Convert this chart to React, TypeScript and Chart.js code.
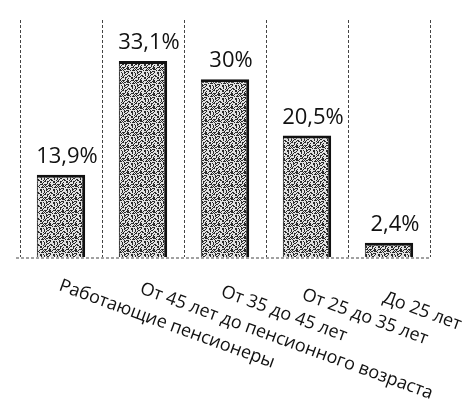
import React, { useEffect, useRef } from "react";
import { Chart, registerables } from "chart.js";

Chart.register(...registerables);

const categories = [
  "Работающие пенсионеры",
  "От 45 лет до пенсионного возраста",
  "От 35 до 45 лет",
  "От 25 до 35 лет",
  "До 25 лет",
];
const values = [13.9, 33.1, 30, 20.5, 2.4];
const valueLabels = ["13,9%", "33,1%", "30%", "20,5%", "2,4%"];

const FONT = "'Open Sans', 'Noto Sans', sans-serif";

function makePattern(ctx: CanvasRenderingContext2D) {
  const size = 13;
  const c = document.createElement("canvas");
  c.width = size;
  c.height = size;
  const p = c.getContext("2d")!;
  p.fillStyle = "#e2e2e2";
  p.fillRect(0, 0, size, size);
  p.fillStyle = "#2a2a2a";
  for (let y = 0; y < size; y++) {
    for (let x = 0; x < size; x++) {
      const h = ((x * 73856093) ^ (y * 19349663) ^ 0x5bd1e995) >>> 0;
      if ((h % 100) < 41) p.fillRect(x, y, 1, 1);
    }
  }
  return ctx.createPattern(c, "repeat");
}

const valueLabelPlugin = {
  id: "valueLabelPlugin",
  afterDatasetsDraw(chart: any) {
    const ctx = chart.ctx;
    const meta = chart.getDatasetMeta(0);
    ctx.save();
    ctx.fillStyle = "#111";
    ctx.font = `22px ${FONT}`;
    ctx.textAlign = "center";
    ctx.textBaseline = "alphabetic";
    meta.data.forEach((bar: any, i: number) => {
      ctx.fillText(valueLabels[i], bar.x + 6, bar.y - 12);
    });
    ctx.restore();
  },
};

const axisLabelPlugin = {
  id: "axisLabelPlugin",
  afterDraw(chart: any) {
    const ctx = chart.ctx;
    const xScale = chart.scales.x;
    const bottom = chart.chartArea.bottom;
    ctx.save();
    ctx.fillStyle = "#111";
    ctx.font = `18px ${FONT}`;
    ctx.textAlign = "left";
    ctx.textBaseline = "alphabetic";
    categories.forEach((label, i) => {
      const x = xScale.getPixelForValue(i) - 3 - i;
      const y = bottom + 33 + 3 * i;
      ctx.save();
      ctx.translate(x, y);
      ctx.rotate((20 * Math.PI) / 180);
      ctx.fillText(label, 0, 0);
      ctx.restore();
    });
    // dashed floor line
    const area = chart.chartArea;
    ctx.strokeStyle = "#444";
    ctx.lineWidth = 1;
    ctx.setLineDash([3, 2]);
    ctx.beginPath();
    ctx.moveTo(area.left - 4, bottom + 1);
    ctx.lineTo(area.right, bottom + 1);
    ctx.stroke();
    ctx.restore();
  },
};

export default function App() {
  const ref = useRef<HTMLCanvasElement | null>(null);

  useEffect(() => {
    const canvas = ref.current!;
    const ctx = canvas.getContext("2d")!;
    const pattern = makePattern(ctx);
    const chart = new Chart(canvas, {
      type: "bar",
      data: {
        labels: categories,
        datasets: [
          {
            data: values,
            backgroundColor: pattern as any,
            borderColor: "#111",
            borderWidth: { top: 3, right: 3, left: 1, bottom: 0 } as any,
            borderSkipped: "bottom",
            categoryPercentage: 1,
            barPercentage: 0.59,
          },
        ],
      },
      options: {
        responsive: false,
        animation: false,
        layout: { padding: { left: 20, right: 39, top: 20, bottom: 154 } },
        plugins: {
          legend: { display: false },
          tooltip: { enabled: false },
        },
        scales: {
          x: {
            offset: true,
            ticks: { display: false },
            grid: {
              display: true,
              offset: true,
              color: "#444",
              lineWidth: 1,
              drawTicks: false,
            },
            border: { display: false, dash: [3, 2] },
          },
          y: {
            display: false,
            min: 0,
            max: 40,
          },
        },
      },
      plugins: [valueLabelPlugin, axisLabelPlugin],
    });
    return () => chart.destroy();
  }, []);

  return (
    <div style={{ position: "absolute", left: 0, top: 0, width: 469, height: 411, background: "#fff" }}>
      <canvas ref={ref} width={469} height={411} />
    </div>
  );
}
